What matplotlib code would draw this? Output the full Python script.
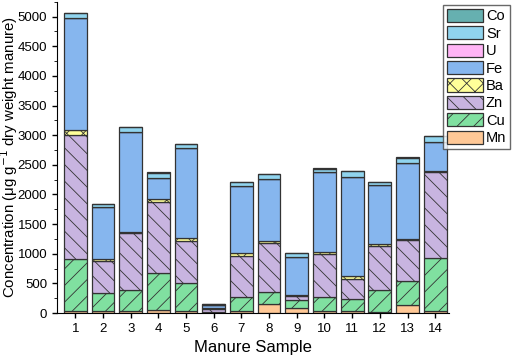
import matplotlib.pyplot as plt
import numpy as np

# manure samples and element concentrations (ug/g dry weight)
samples = list(range(1, 15))
Mn = [40, 34, 30, 55, 35, 5, 35, 147, 79, 34, 34, 25, 129, 40]
Cu = [870, 298, 358, 615, 466, 15, 230, 207, 140, 231, 197, 363, 411, 882]
Zn = [2100, 540, 956, 1203, 719, 55, 702, 833, 68, 725, 348, 748, 691, 1451]
Ba = [70, 45, 28, 45, 40, 5, 40, 28, 17, 34, 50, 34, 19, 22]
Fe = [1890, 865, 1676, 354, 1518, 55, 1135, 1040, 646, 1349, 1660, 984, 1275, 495]
U = [3, 2, 2, 2, 2, 1, 2, 2, 1, 2, 2, 2, 2, 2]
Sr = [80, 50, 88, 93, 66, 20, 66, 83, 65, 60, 99, 54, 93, 94]
Co = [6, 4, 5, 5, 4, 3, 4, 4, 3, 4, 5, 4, 5, 8]

elements = ['Mn', 'Cu', 'Zn', 'Ba', 'Fe', 'U', 'Sr', 'Co']
values = [Mn, Cu, Zn, Ba, Fe, U, Sr, Co]
colors = ['#ffc896', '#80e0a0', '#c8b4e0', '#ffff99', '#86b6ee', '#ffb4f5', '#90d4ee', '#66b0b0']
hatches = ['', '//', '\\\\', 'xx', '', '', '', '']

plt.rcParams['hatch.linewidth'] = 0.6
plt.rcParams['font.family'] = 'Liberation Sans'

fig = plt.figure(figsize=(5.12, 3.64), dpi=100)
ax = fig.add_axes([0.111, 0.14, 0.766, 0.855])

bottom = np.zeros(len(samples))
for name, vals, c, h in zip(elements, values, colors, hatches):
    ax.bar(samples, vals, bottom=bottom, width=0.82, color=c, edgecolor='#333333',
           linewidth=0.9, hatch=h, label=name)
    bottom += np.array(vals)

ax.set_xlim(0.33, 14.5)
ax.set_ylim(0, 5250)
ax.set_xticks(samples)
ax.set_yticks(np.arange(0, 5001, 500))
ax.set_yticks(np.arange(0, 5251, 250), minor=True)
ax.tick_params(axis='both', labelsize=9.5, direction='out', width=1)
ax.tick_params(axis='x', which='minor', bottom=False)
ax.spines['top'].set_visible(False)
ax.spines['right'].set_visible(False)
ax.set_xlabel('Manure Sample', fontsize=12)
ax.set_ylabel('Concentration (μg g$^{-1}$ dry weight manure)', fontsize=10.8)
ax.yaxis.set_label_coords(-0.093, 0.5)

handles, labels = ax.get_legend_handles_labels()
leg = fig.legend(handles[::-1], labels[::-1], loc='upper right', bbox_to_anchor=(0.996, 0.986),
                 fontsize=10.5, frameon=True, fancybox=False, edgecolor='#444444',
                 handlelength=2.5, handleheight=1.0, handletextpad=0.2, labelspacing=0.2,
                 borderpad=0.25, borderaxespad=0)

plt.savefig('out.png')
plt.close()
